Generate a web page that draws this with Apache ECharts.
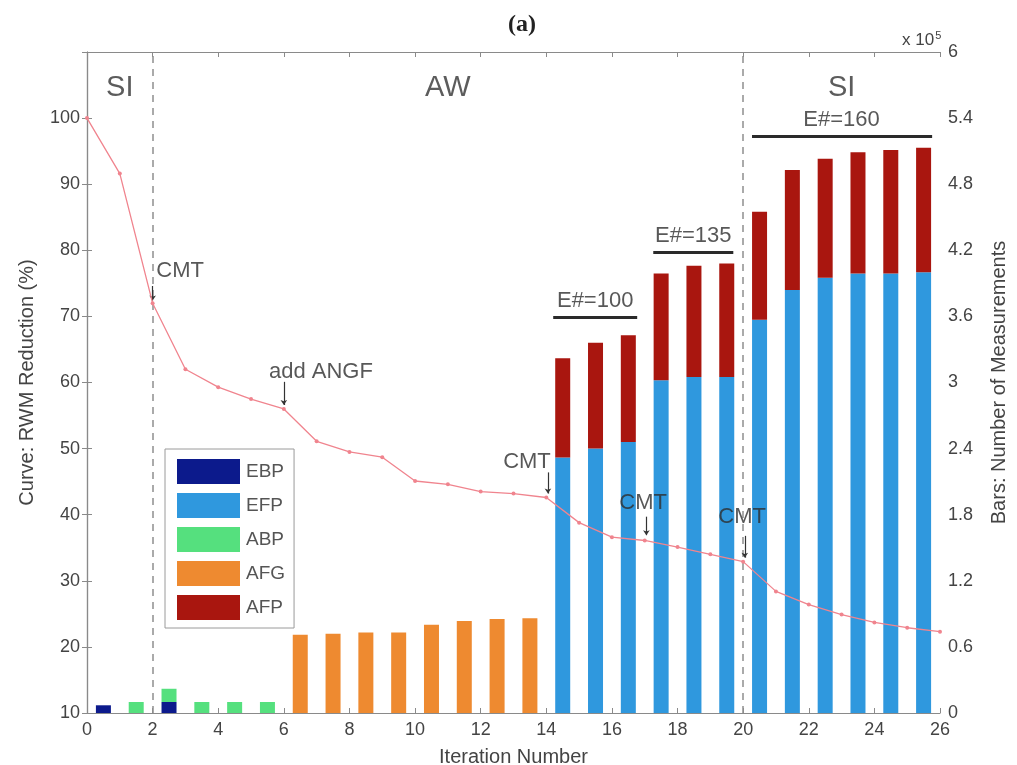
<!DOCTYPE html>
<html>
<head>
<meta charset="utf-8">
<title>RWM reduction and measurement counts per iteration</title>
<script src="https://cdn.jsdelivr.net/npm/echarts@6/dist/echarts.min.js"></script>
<style>
  html, body { margin: 0; padding: 0; background: #ffffff; }
  #chart { width: 1017px; height: 765px; }
</style>
</head>
<body>
<div id="chart"></div>
<script>
// Iteration numbers and the RWM reduction curve (%)
const iterations = [0, 1, 2, 3, 4, 5, 6, 7, 8, 9, 10, 11, 12, 13, 14, 15, 16, 17, 18, 19, 20, 21, 22, 23, 24, 25, 26];
const rwmReduction = [100, 91.6, 72.0, 62.0, 59.3, 57.5, 56.0, 51.1, 49.5, 48.7, 45.1, 44.6, 43.5, 43.2, 42.6, 38.8, 36.6, 36.1, 35.1, 34.0, 32.9, 28.4, 26.4, 24.9, 23.7, 22.9, 22.3];

// Measurement counts per iteration (units of 10^5), one bin between consecutive iterations
const bins = ['1', '2', '3', '4', '5', '6', '7', '8', '9', '10', '11', '12', '13', '14', '15', '16', '17', '18', '19', '20', '21', '22', '23', '24', '25', '26'];
const ebp = [0.07, null, 0.10, null, null, null, null, null, null, null, null, null, null, null, null, null, null, null, null, null, null, null, null, null, null, null];
const efp = [null, null, null, null, null, null, null, null, null, null, null, null, null, null, 2.32, 2.40, 2.46, 3.02, 3.05, 3.05, 3.57, 3.84, 3.95, 3.99, 3.99, 4.00];
const abp = [null, 0.10, 0.12, 0.10, 0.10, 0.10, null, null, null, null, null, null, null, null, null, null, null, null, null, null, null, null, null, null, null, null];
const afg = [null, null, null, null, null, null, 0.71, 0.72, 0.73, 0.73, 0.80, 0.835, 0.853, 0.86, null, null, null, null, null, null, null, null, null, null, null, null];
const afp = [null, null, null, null, null, null, null, null, null, null, null, null, null, null, 0.90, 0.96, 0.97, 0.97, 1.01, 1.03, 0.98, 1.09, 1.08, 1.10, 1.12, 1.13];

// Right-axis tick values (units of 10^5)
const rightTicks = [0, 0.6, 1.2, 1.8, 2.4, 3, 3.6, 4.2, 4.8, 5.4, 6];

// Phase boundaries, phase names and annotation texts
const phaseBoundaries = [2, 20];
const phaseNames = ['SI', 'AW', 'SI'];
const ensembleLabels = ['E#=100', 'E#=135', 'E#=160'];
const eventLabels = ['CMT', 'add ANGF', 'CMT', 'CMT', 'CMT'];

const FONT = '"Liberation Sans", Arial, Helvetica, sans-serif';
const TEXT = '#444';
const NOTE = '#2e2e2e';
const AXIS = '#8a8a8a';

const colors = {
  EBP: '#0c1a8c',
  EFP: '#2f98de',
  ABP: '#55e07e',
  AFG: '#ee8a30',
  AFP: '#a9160f',
  curve: '#f0848e'
};

// Annotation placement in (iteration, %) coordinates
const phaseLabelAt = [[1.0, 104.6], [11.0, 104.6], [23.0, 104.6]];
const ensembleSpans = [[14.21, 16.77, 69.8], [17.26, 19.7, 79.7], [20.27, 25.76, 97.3]];
const ensembleLabelAt = [[15.49, 72.3], [18.48, 82.1], [23.0, 99.7]];
const eventLabelAt = [[2.84, 76.9], [7.13, 61.6], [13.41, 48.0], [16.95, 41.8], [19.97, 39.7]];
const eventArrows = [[2.0, 74.6, 72.4], [6.0, 60.1, 56.6], [14.05, 46.4, 43.2], [17.05, 39.7, 36.9], [20.05, 36.8, 33.5]];

const annotationData = [];
phaseNames.forEach((t, i) => annotationData.push({
  name: t, value: phaseLabelAt[i],
  label: { fontSize: 29, color: '#333' }
}));
ensembleLabels.forEach((t, i) => annotationData.push({
  name: t, value: ensembleLabelAt[i],
  label: { fontSize: 22, color: NOTE }
}));
eventLabels.forEach((t, i) => annotationData.push({
  name: t, value: eventLabelAt[i],
  label: { fontSize: 22, color: NOTE }
}));

const markLines = [];
phaseBoundaries.forEach(x => markLines.push({
  xAxis: x,
  lineStyle: { type: [7, 6], color: '#8f8f8f', width: 1.5 }
}));
ensembleSpans.forEach(s => markLines.push([
  { coord: [s[0], s[2]], symbol: 'none', lineStyle: { color: '#2a2a2a', width: 3, type: 'solid' } },
  { coord: [s[1], s[2]], symbol: 'none' }
]));
eventArrows.forEach(a => markLines.push([
  { coord: [a[0], a[1]], symbol: 'none', lineStyle: { color: '#333', width: 1.2, type: 'solid' } },
  { coord: [a[0], a[2]], symbol: 'arrow', symbolSize: 5 }
]));

const barSeries = (name, data) => ({
  name, type: 'bar', stack: 'measurements',
  xAxisIndex: 1, yAxisIndex: 1,
  barWidth: 15, data,
  itemStyle: { color: colors[name] },
  z: 2
});

const chart = echarts.init(document.getElementById('chart'), null, { renderer: 'canvas' });
chart.setOption({
  backgroundColor: '#ffffff',
  animation: false,
  textStyle: { fontFamily: FONT },
  title: {
    text: '(a)', left: 503, top: 8,
    textStyle: { fontFamily: '"Liberation Serif", "DejaVu Serif", serif', fontWeight: 'bold', fontSize: 24, color: '#222' }
  },
  graphic: [{
    type: 'text', left: 902, top: 30,
    style: {
      text: 'x 10{s|5}',
      fontFamily: FONT, fontSize: 17, fill: '#444',
      rich: { s: { fontSize: 11, verticalAlign: 'top', padding: [0, 0, 10, 1], fill: '#444' } }
    }
  }],
  legend: {
    data: ['EBP', 'EFP', 'ABP', 'AFG', 'AFP'],
    orient: 'vertical', left: 165, top: 449,
    icon: 'rect', itemWidth: 63, itemHeight: 25, itemGap: 9,
    padding: [10, 9, 8, 12],
    borderColor: '#9a9a9a', borderWidth: 1, backgroundColor: '#ffffff',
    textStyle: { fontSize: 19, color: '#555', fontFamily: FONT, padding: [0, 0, 0, 1] }
  },
  grid: { left: 87, right: 77, top: 52, bottom: 52, containLabel: false, outerBoundsMode: 'none' },
  xAxis: [
    {
      type: 'value', min: 0, max: 26, interval: 2, position: 'bottom',
      name: 'Iteration Number', nameLocation: 'middle', nameGap: 34,
      nameTextStyle: { fontSize: 20, color: TEXT },
      axisLine: { lineStyle: { color: AXIS, width: 1.2 } },
      axisTick: { inside: true, length: 5, lineStyle: { color: AXIS } },
      axisLabel: { fontSize: 18, color: TEXT, margin: 8 },
      splitLine: { show: false }
    },
    { type: 'category', data: bins, show: false, boundaryGap: true },
    {
      type: 'value', min: 0, max: 26, interval: 2, position: 'top',
      axisLine: { lineStyle: { color: AXIS, width: 1.2 } },
      axisTick: { inside: true, length: 5, lineStyle: { color: AXIS } },
      axisLabel: { show: false }, splitLine: { show: false }
    }
  ],
  yAxis: [
    {
      type: 'value', min: 10, max: 110, interval: 10, position: 'left',
      name: 'Curve: RWM Reduction (%)', nameLocation: 'middle', nameGap: 50, nameRotate: 90,
      nameTextStyle: { fontSize: 20, color: TEXT },
      axisLine: { show: true, lineStyle: { color: AXIS, width: 1.2 } },
      axisTick: { show: true, inside: true, length: 5, lineStyle: { color: AXIS } },
      axisLabel: { fontSize: 18, color: TEXT, margin: 7, formatter: v => (v === 110 ? '' : String(v)) },
      splitLine: { show: false }
    },
    {
      type: 'value', min: 0, max: 6, interval: 0.6, position: 'right',
      name: 'Bars: Number of Measurements', nameLocation: 'middle', nameGap: 49, nameRotate: 90,
      nameTextStyle: { fontSize: 20, color: TEXT },
      axisLine: { show: true, lineStyle: { color: AXIS, width: 1.2 } },
      axisTick: { show: true, inside: true, length: 5, lineStyle: { color: AXIS } },
      axisLabel: {
        fontSize: 18, color: TEXT, margin: 8,
        formatter: v => {
          const r = Math.round(v * 10) / 10;
          const hit = rightTicks.find(t => Math.abs(t - r) < 1e-6);
          return hit === undefined ? '' : String(hit);
        }
      },
      splitLine: { show: false }
    }
  ],
  series: [
    barSeries('EBP', ebp),
    barSeries('EFP', efp),
    barSeries('ABP', abp),
    barSeries('AFG', afg),
    barSeries('AFP', afp),
    {
      name: 'RWM reduction', type: 'line',
      xAxisIndex: 0, yAxisIndex: 0,
      data: iterations.map((x, i) => [x, rwmReduction[i]]),
      lineStyle: { color: colors.curve, width: 1.3 },
      itemStyle: { color: colors.curve },
      symbol: 'circle', symbolSize: 4, showSymbol: true,
      z: 6
    },
    {
      name: 'notes', type: 'scatter',
      xAxisIndex: 0, yAxisIndex: 0,
      symbolSize: 0, silent: true, z: 7,
      label: { show: true, position: 'inside', formatter: '{b}', fontFamily: FONT },
      data: annotationData,
      markLine: {
        silent: true, animation: false,
        symbol: ['none', 'none'],
        label: { show: false },
        lineStyle: { type: 'solid' },
        data: markLines
      }
    }
  ]
});
</script>
</body>
</html>
